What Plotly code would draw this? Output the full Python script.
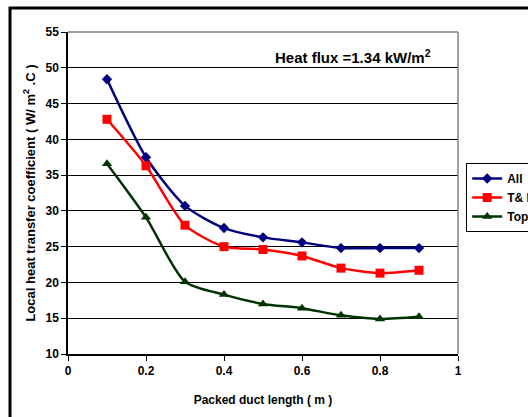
import plotly.graph_objects as go

x_vals = [0.1, 0.2, 0.3, 0.4, 0.5, 0.6, 0.7, 0.8, 0.9]
all_vals = [48.4, 37.5, 30.7, 27.6, 26.3, 25.6, 24.8, 24.8, 24.8]
tb_vals = [42.8, 36.3, 28.0, 25.0, 24.6, 23.7, 22.0, 21.3, 21.7]
top_vals = [36.6, 29.1, 20.1, 18.3, 17.0, 16.4, 15.4, 14.9, 15.2]
series_names = ["All", "T& B", "Top"]
x_ticks = [0, 0.2, 0.4, 0.6, 0.8, 1]
x_tick_labels = ["0", "0.2", "0.4", "0.6", "0.8", "1"]
y_ticks = [10, 15, 20, 25, 30, 35, 40, 45, 50, 55]

FONT = "Liberation Sans"

fig = go.Figure()
fig.add_trace(go.Scatter(x=x_vals, y=all_vals, name=series_names[0], mode="lines+markers",
                         line=dict(color="#000080", width=2.5, shape="spline", smoothing=0.7),
                         marker=dict(symbol="diamond", size=8, color="#000080")))
fig.add_trace(go.Scatter(x=x_vals, y=tb_vals, name=series_names[1], mode="lines+markers",
                         line=dict(color="#ff0000", width=2.5, shape="spline", smoothing=0.7),
                         marker=dict(symbol="square", size=9, color="#ff0000")))
fig.add_trace(go.Scatter(x=x_vals, y=top_vals, name=series_names[2], mode="lines+markers",
                         line=dict(color="#003300", width=2.5, shape="spline", smoothing=0.7),
                         marker=dict(symbol="triangle-up", size=9, color="#003300")))

fig.update_layout(
    width=528, height=417,
    margin=dict(l=68, r=70, t=32, b=63, autoexpand=False),
    paper_bgcolor="white", plot_bgcolor="white",
    font=dict(family=FONT, size=12, color="black", weight="bold"),
    showlegend=True,
    legend=dict(x=1.021, y=0.593, xanchor="left", yanchor="top",
                bordercolor="black", borderwidth=1, bgcolor="white",
                font=dict(family=FONT, size=12, color="black", weight="bold"),
                itemwidth=30, tracegroupgap=0),
    xaxis=dict(range=[0, 1], tickvals=x_ticks, ticktext=x_tick_labels,
               showgrid=False, zeroline=False, showline=True, linecolor="black", linewidth=1.5,
               ticks="outside", ticklen=5, tickcolor="black",
               tickfont=dict(family=FONT, size=12, weight="bold"),
               title=dict(text="Packed duct length ( m )", standoff=18,
                          font=dict(family=FONT, size=12, weight="bold"))),
    yaxis=dict(range=[10, 55], tickvals=y_ticks,
               showgrid=True, gridcolor="black", gridwidth=1,
               zeroline=False, showline=True, linecolor="black", linewidth=1.5,
               ticks="outside", ticklen=5, tickcolor="black",
               tickfont=dict(family=FONT, size=12, weight="bold"),
               title=dict(text="Local heat transfer coefficient ( W/ m<sup>2</sup> .C )", standoff=7,
                          font=dict(family=FONT, size=13, weight="bold"))),
)

# plot area top/right border (gray)
fig.add_shape(type="line", xref="paper", yref="paper", x0=0, x1=1, y0=1, y1=1,
              line=dict(color="#808080", width=1.5))
fig.add_shape(type="line", xref="paper", yref="paper", x0=1, x1=1, y0=0, y1=1,
              line=dict(color="#808080", width=1.5))
# outer chart frame
fig.add_shape(type="rect", xref="paper", yref="paper", x0=-0.1487, x1=1.25, y0=-0.26, y1=1.0745,
              line=dict(color="black", width=3), layer="below")

fig.add_annotation(text="Heat flux =1.34 kW/m<sup>2</sup>", xref="paper", yref="paper",
                   x=0.731, y=0.925, xanchor="center", yanchor="middle", showarrow=False,
                   font=dict(family=FONT, size=15, color="black", weight="bold"))

fig.write_html("out.html")
